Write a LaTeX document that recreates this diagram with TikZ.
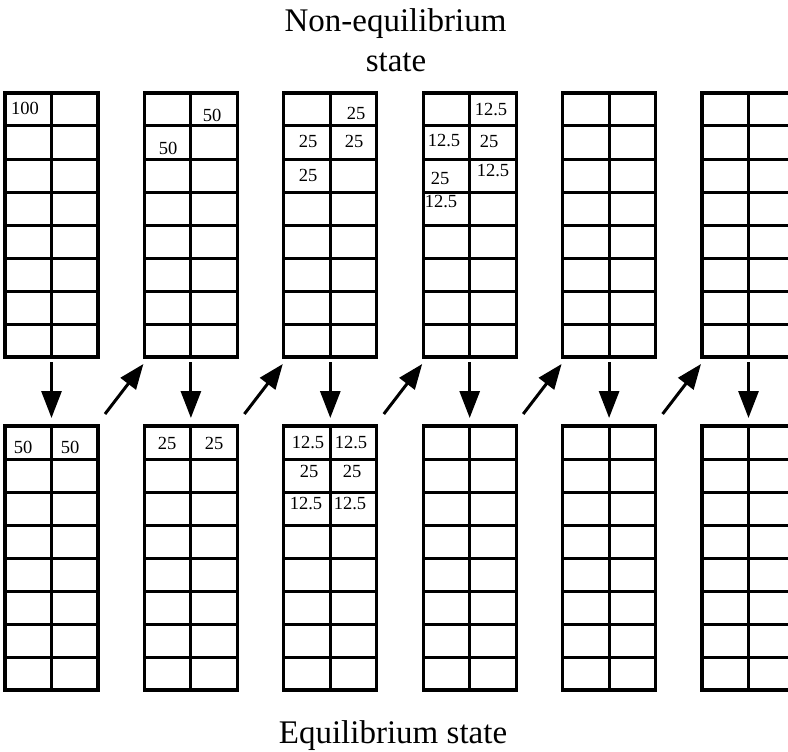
\documentclass[tikz,border=0pt]{standalone}
\usepackage{fontspec}
\setmainfont{Liberation Serif}
\usetikzlibrary{arrows.meta,positioning}
\tikzset{
    cellgrid/.style={draw, line width=3.2pt, minimum width=93pt, minimum height=264pt, inner sep=0pt, outer sep=0pt},
    gridline/.style={line width=3pt},
    num/.style={font=\fontsize{18.5}{20}\selectfont, inner sep=0pt},
    caption/.style={font=\fontsize{33}{40}\selectfont, inner sep=0pt, anchor=base},
    downarr/.style={-{Triangle[length=27pt,width=20pt]}, line width=3pt, shorten <=5pt, shorten >=8pt},
    diagarr/.style={-{Triangle[length=25pt,width=19pt]}, line width=3pt},
}
\begin{document}
\begin{tikzpicture}[x=1pt,y=-1pt]
\clip (0,0) rectangle (788,752);
\fill[white] (0,0) rectangle (788,752);

% the twelve columns of cells
\foreach \i/\x in {1/51.5,2/190.9,3/330.3,4/469.7,5/609.1,6/748.5}{
    \node[cellgrid] (t\i) at (\x,225) {};
    \node[cellgrid] (b\i) at (\x,558) {};
}
\foreach \g in {t1,t2,t3,t4,t5,t6,b1,b2,b3,b4,b5,b6}{
    \draw[gridline] (\g.north) -- (\g.south);
    \foreach \r in {1,...,7}
        \draw[gridline] ([yshift=-\r*33pt]\g.north west) -- ([yshift=-\r*33pt]\g.north east);
}

% contents, non-equilibrium row
\node[num] (ta1) at (25,108) {100};
\node[num] (ta2) at (212,115) {50};
\node[num] (tb2) at (168,148) {50};
\node[num] (ta3) at (356,113) {25};
\node[num] (tb3) at (308,141) {25};
\node[num] (tc3) at (354,141) {25};
\node[num] (td3) at (308,175) {25};
\node[num] (ta4) at (491,110) {12.5};
\node[num] (tb4) at (444,141) {12.5};
\node[num] (tc4) at (489,141) {25};
\node[num] (td4) at (440,178) {25};
\node[num] (te4) at (493,171) {12.5};
\node[num] (tf4) at (441,202) {12.5};

% contents, equilibrium row
\node[num] (ba1) at (23,447) {50};
\node[num] (bb1) at (70,447) {50};
\node[num] (ba2) at (167,443) {25};
\node[num] (bb2) at (214,443) {25};
\node[num] (ba3) at (308,443) {12.5};
\node[num] (bb3) at (351,443) {12.5};
\node[num] (bc3) at (309,471) {25};
\node[num] (bd3) at (352,471) {25};
\node[num] (be3) at (306,504) {12.5};
\node[num] (bf3) at (350,504) {12.5};

% captions
\node[caption] (neqa) at (395.5,32) {Non-equilibrium};
\node[caption] (neqb) at (396,72) {state};
\node[caption] (eq) at (393,743) {Equilibrium state};

% arrows
\foreach \i in {1,...,6}
    \draw[downarr] (t\i.south) -- (b\i.north);
\foreach \i/\j in {1/2,2/3,3/4,4/5,5/6}
    \draw[diagarr] ([shift={(7pt,12pt)}]b\i.north east) -- ([shift={(-1pt,-7pt)}]t\j.south west);
\end{tikzpicture}
\end{document}
